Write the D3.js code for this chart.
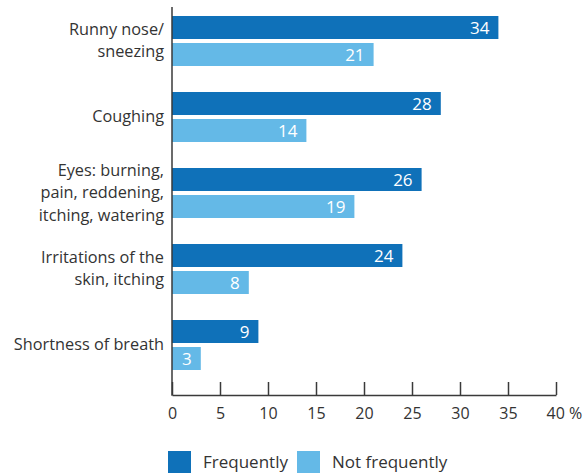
<!DOCTYPE html>
<html>
<head>
<meta charset="utf-8">
<script src="https://cdn.jsdelivr.net/npm/d3@7"></script>
<style>
  body { margin: 0; background: #fff; }
  svg text { font-family: "Open Sans", sans-serif; fill: #333; }
</style>
</head>
<body>
<svg id="chart" width="587" height="473"></svg>
<script>
// data
var categories = [
  ["Runny nose/", "sneezing"],
  ["Coughing"],
  ["Eyes: burning,", "pain, reddening,", "itching, watering"],
  ["Irritations of the", "skin, itching"],
  ["Shortness of breath"]
];
var series = ["Frequently", "Not frequently"];
var frequently = [34, 28, 26, 24, 9];
var notFrequently = [21, 14, 19, 8, 3];
var xTicks = [0, 5, 10, 15, 20, 25, 30, 35, 40];
var colors = ["#0f71b9", "#64b9e7"];

var svg = d3.select("#chart");
var keys = categories.map(function(c){ return c.join(" "); });

var rows = keys.map(function(k, i){
  return {key: k, lines: categories[i], values: [frequently[i], notFrequently[i]]};
});

var x = d3.scaleLinear().domain([0, 40]).range([172, 556]);
var y0 = d3.scaleBand().domain(keys).range([16, 370]).paddingInner(26 / 76);
var y1 = d3.scaleBand().domain(series).range([0, y0.bandwidth()]).paddingInner(4 / 27);

// bars
var groups = svg.selectAll(".grp")
  .data(rows)
  .enter().append("g")
  .attr("class", "grp")
  .attr("transform", function(d){ return "translate(0," + y0(d.key) + ")"; });

groups.selectAll("rect")
  .data(function(d){ return d.values.map(function(v, j){ return {s: series[j], v: v, j: j}; }); })
  .enter().append("rect")
  .attr("x", x(0))
  .attr("y", function(d){ return y1(d.s); })
  .attr("width", function(d){ return x(d.v) - x(0); })
  .attr("height", y1.bandwidth())
  .attr("fill", function(d){ return colors[d.j]; });

groups.selectAll(".val")
  .data(function(d){ return d.values.map(function(v, j){ return {s: series[j], v: v}; }); })
  .enter().append("text")
  .attr("class", "val")
  .attr("x", function(d){ return x(d.v) - 9; })
  .attr("y", function(d){ return y1(d.s) + y1.bandwidth() / 2 + 6; })
  .attr("text-anchor", "end")
  .style("fill", "#fff")
  .style("font-size", "17px")
  .text(function(d){ return d.v; });

// category labels
groups.append("text")
  .attr("text-anchor", "end")
  .style("font-size", "16.3px")
  .selectAll("tspan")
  .data(function(d){ return d.lines.map(function(l, i){ return {l: l, i: i, n: d.lines.length}; }); })
  .enter().append("tspan")
  .attr("x", 164)
  .attr("y", function(d){ return y0.bandwidth() / 2 + 5 + (d.i - (d.n - 1) / 2) * 22.5; })
  .text(function(d){ return d.l; });

// axes
var xAxis = d3.axisBottom(x)
  .tickValues(xTicks)
  .tickSize(-13)
  .tickSizeOuter(0)
  .tickPadding(13)
  .tickFormat(function(d){ return d === 40 ? "40 %" : d; });

var ax = svg.append("g")
  .attr("transform", "translate(0,395)")
  .call(xAxis);
ax.select(".domain").attr("stroke", "#3a3a3a").attr("stroke-width", 1.5);
ax.selectAll(".tick line").attr("stroke", "#3a3a3a").attr("stroke-width", 1.5);
ax.selectAll(".tick text")
  .style("font-family", "'Open Sans', sans-serif")
  .style("font-size", "16px")
  .attr("fill", "#333");
ax.selectAll(".tick").filter(function(d){ return d === 40; }).select("text")
  .attr("text-anchor", "start")
  .attr("x", -10);

svg.append("line")
  .attr("x1", x(0)).attr("x2", x(0))
  .attr("y1", 7).attr("y2", 395.75)
  .attr("stroke", "#3a3a3a")
  .attr("stroke-width", 1.5);

// legend
var legendX = [168, 297];
var legend = svg.selectAll(".leg")
  .data(series)
  .enter().append("g")
  .attr("class", "leg")
  .attr("transform", function(d, i){ return "translate(" + legendX[i] + ",451)"; });
legend.append("rect")
  .attr("width", 23).attr("height", 22)
  .attr("fill", function(d, i){ return colors[i]; });
legend.append("text")
  .attr("x", 35).attr("y", 17)
  .style("font-size", "17px")
  .text(function(d){ return d; });
</script>
</body>
</html>
